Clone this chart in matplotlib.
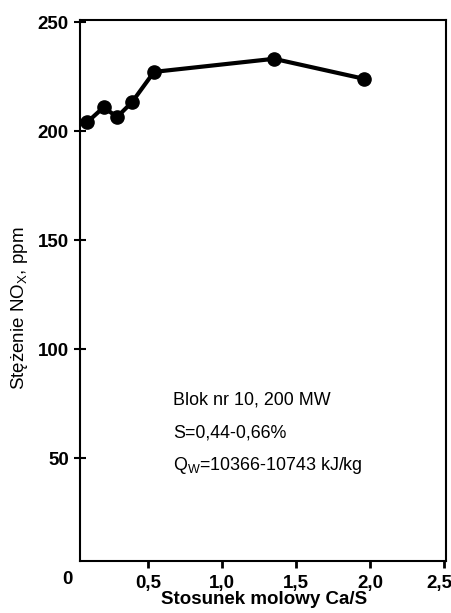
import matplotlib
matplotlib.use("Agg")
import matplotlib.pyplot as plt
import matplotlib.transforms as mtransforms

plt.rcParams['font.family'] = ['Liberation Sans', 'DejaVu Sans']

ca_s = [0.09, 0.20, 0.29, 0.39, 0.54, 1.35, 1.96]
nox = [204.2, 211.0, 206.5, 213.2, 227.2, 233.2, 224.0]

x_ticks = [0.5, 1.0, 1.5, 2.0, 2.5]
x_tick_labels = ["0,5", "1,0", "1,5", "2,0", "2,5"]
y_ticks = [50, 100, 150, 200, 250]
y_tick_labels = ["50", "100", "150", "200", "250"]

fig = plt.figure(figsize=(4.52, 6.13), dpi=100)
ax = fig.add_axes([80/452, 1 - 560.7/613, (445.7 - 80)/452, (560.7 - 20)/613])

ax.plot(ca_s, nox, color='black', lw=3, marker='o', ms=9.5, mfc='black', mec='black')

ax.set_xlim(0.04, 2.51)
ax.set_ylim(3, 251)

ax.set_xticks(x_ticks)
ax.set_xticklabels(x_tick_labels, fontsize=13.5, fontweight='bold')
ax.set_yticks(y_ticks)
ax.set_yticklabels(y_tick_labels, fontsize=13.5, fontweight='bold')

ax.tick_params(axis='x', direction='out', length=5, width=2, pad=5)
ax.tick_params(axis='y', direction='inout', length=8, width=1.5, pad=4)

# shift last x label left so it fits
lbl = ax.get_xticklabels()[-1]
lbl.set_transform(lbl.get_transform() + mtransforms.ScaledTranslation(-5/100, 0, fig.dpi_scale_trans))

for s in ax.spines.values():
    s.set_linewidth(1.5)

fig.text(67/452, 1 - 580/613, "0", ha='center', va='center', fontsize=13.5, fontweight='bold')

fig.text(264/452, 1 - 600/613, "Stosunek molowy Ca/S", ha='center', va='center',
         fontsize=13.5, fontweight='bold')
fig.text(20/452, 1 - 308/613, "Stężenie NO$_\\mathregular{X}$, ppm", ha='center', va='center',
         rotation=90, fontsize=13.5)

fig.text(173/452, 1 - 400/613, "Blok nr 10, 200 MW", fontsize=12.9, va='center')
fig.text(173/452, 1 - 433/613, "S=0,44-0,66%", fontsize=12.9, va='center')
fig.text(173/452, 1 - 465/613, "Q$_\\mathregular{W}$=10366-10743 kJ/kg", fontsize=12.9, va='center')

fig.savefig("out.png", dpi=100)
